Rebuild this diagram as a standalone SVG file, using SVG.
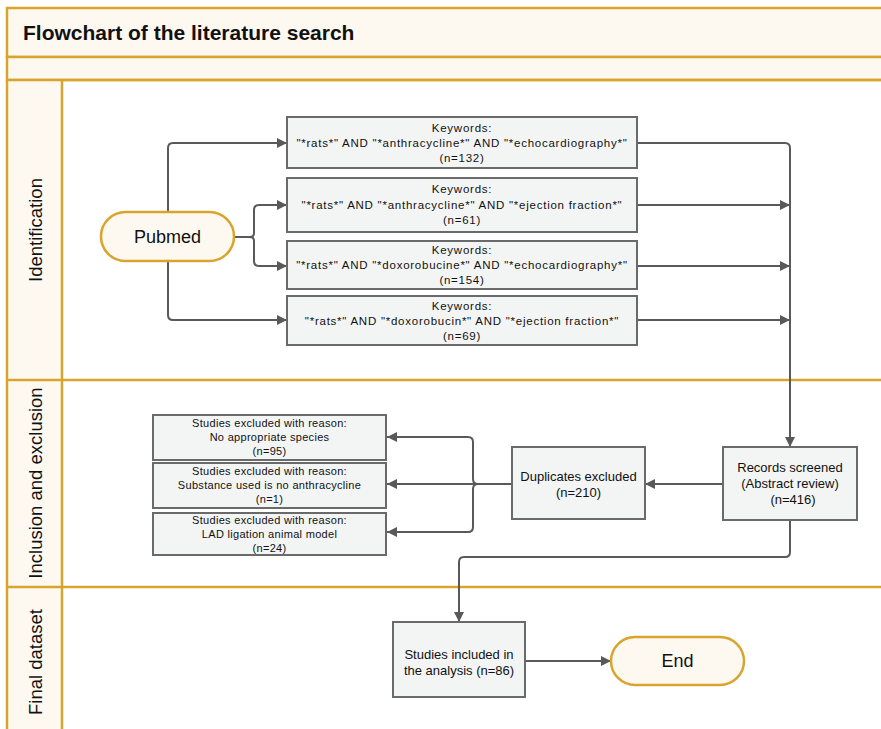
<svg xmlns="http://www.w3.org/2000/svg" width="881" height="729" viewBox="0 0 881 729">
<defs>
<marker id="ah" viewBox="0 0 10 10" refX="10" refY="5" markerWidth="10" markerHeight="10" markerUnits="userSpaceOnUse" orient="auto">
<path d="M0,0 L10,5 L0,10 z" fill="#595959"/>
</marker>
<style>
.lane{fill:none;stroke:#d9a42c;stroke-width:2.5}
.hdr{fill:#fdf9f1;stroke:#d9a42c;stroke-width:2.5}
.box{fill:#f3f5f5;stroke:#6a6a6a;stroke-width:2}
.pill{fill:#fdf9f1;stroke:#d9a42c;stroke-width:2.5}
.c{fill:none;stroke:#595959;stroke-width:2;marker-end:url(#ah)}
.cn{fill:none;stroke:#595959;stroke-width:2}
.t{font-family:"Liberation Sans",Arial,sans-serif;fill:#111;text-anchor:middle}
.k{font-size:11.5px;letter-spacing:0.75px}
.s{font-size:11px;letter-spacing:0.3px}
.m{font-size:13px}
.big{font-family:"Liberation Sans",Arial,sans-serif;font-size:18px;fill:#111;text-anchor:middle}
.lbl{font-family:"Liberation Sans",Arial,sans-serif;font-size:18.5px;fill:#111;text-anchor:middle}
</style>
</defs>
<g id="pool">
<rect class="hdr" x="7" y="8" width="880" height="49"/>
<rect class="hdr" x="7" y="57" width="880" height="23"/>
<rect x="7" y="80" width="55" height="660" fill="#fdf9f1"/>
<path class="lane" d="M7,80 V740 M62,80 V740 M7,80 H881 M7,380 H881 M7,587 H881"/>
<text x="23" y="40" font-family="Liberation Sans,Arial,sans-serif" font-size="21" font-weight="bold" fill="#111">Flowchart of the literature search</text>
<text class="lbl" transform="translate(42,230) rotate(-90)">Identification</text>
<text class="lbl" transform="translate(42,483) rotate(-90)">Inclusion and exclusion</text>
<text class="lbl" transform="translate(42,662) rotate(-90)">Final dataset</text>
</g>
<g id="connectors">
<path class="c" d="M168,212 V148 Q168,143 173,143 H287"/>
<path class="c" d="M168,261 V315 Q168,320 173,320 H287"/>
<path class="cn" d="M234,237 H250"/>
<path class="c" d="M254,233 V210 Q254,205 259,205 H287"/>
<path class="c" d="M254,241 V261 Q254,266 259,266 H287"/>
<path class="cn" d="M250,237 Q254,237 254,233 M250,237 Q254,237 254,241"/>
<path class="c" d="M637,143 H785 Q790,143 790,148 V447"/>
<path class="c" d="M637,205 H790"/>
<path class="c" d="M637,266 H790"/>
<path class="c" d="M637,320 H790"/>
<path class="c" d="M723,484 H645"/>
<path class="cn" d="M512,484 H478"/>
<path class="c" d="M478,484 Q473,484 473,479 V442 Q473,437 468,437 H387"/>
<path class="c" d="M478,484 H387"/>
<path class="c" d="M478,484 Q473,484 473,489 V527 Q473,532 468,532 H387"/>
<path class="c" d="M790,520 V552 Q790,557 785,557 H464 Q459,557 459,562 V622"/>
<path class="c" d="M525,661 H611"/>
</g>
<g id="pubmed">
<rect class="pill" x="101" y="212" width="133" height="49" rx="24.5"/>
<text class="big" x="167.5" y="243">Pubmed</text>
</g>
<g id="kw1">
<rect class="box" x="287" y="117" width="350" height="51"/>
<text class="t k" x="462" y="132">Keywords:</text>
<text class="t k" x="462" y="147">"*rats*" AND "*anthracycline*" AND "*echocardiography*"</text>
<text class="t k" x="462" y="162">(n=132)</text>
</g>
<g id="kw2">
<rect class="box" x="287" y="178" width="350" height="54"/>
<text class="t k" x="462" y="193">Keywords:</text>
<text class="t k" x="462" y="209">"*rats*" AND "*anthracycline*" AND "*ejection fraction*"</text>
<text class="t k" x="462" y="224">(n=61)</text>
</g>
<g id="kw3">
<rect class="box" x="287" y="241" width="350" height="48"/>
<text class="t k" x="462" y="254">Keywords:</text>
<text class="t k" x="462" y="269">"*rats*" AND "*doxorobucine*" AND "*echocardiography*"</text>
<text class="t k" x="462" y="284">(n=154)</text>
</g>
<g id="kw4">
<rect class="box" x="287" y="296" width="350" height="49"/>
<text class="t k" x="462" y="310">Keywords:</text>
<text class="t k" x="462" y="325">"*rats*" AND "*doxorobucin*" AND "*ejection fraction*"</text>
<text class="t k" x="462" y="340">(n=69)</text>
</g>
<g id="records">
<rect class="box" x="723" y="447" width="134" height="73"/>
<text class="t m" x="790" y="472">Records screened</text>
<text class="t m" x="790" y="488">(Abstract review)</text>
<text class="t m" x="793" y="504">(n=416)</text>
</g>
<g id="duplicates">
<rect class="box" x="512" y="447" width="133" height="72"/>
<text class="t m" x="578.5" y="481">Duplicates excluded</text>
<text class="t m" x="578.5" y="497">(n=210)</text>
</g>
<g id="excl1">
<rect class="box" x="153" y="415" width="233" height="45"/>
<text class="t s" x="269.5" y="427">Studies excluded with reason:</text>
<text class="t s" x="269.5" y="441">No appropriate species</text>
<text class="t s" x="269.5" y="455">(n=95)</text>
</g>
<g id="excl2">
<rect class="box" x="153" y="463" width="233" height="45"/>
<text class="t s" x="269.5" y="475">Studies excluded with reason:</text>
<text class="t s" x="269.5" y="489">Substance used is no anthracycline</text>
<text class="t s" x="269.5" y="503">(n=1)</text>
</g>
<g id="excl3">
<rect class="box" x="153" y="513" width="233" height="42"/>
<text class="t s" x="269.5" y="524">Studies excluded with reason:</text>
<text class="t s" x="269.5" y="538">LAD ligation animal model</text>
<text class="t s" x="269.5" y="552">(n=24)</text>
</g>
<g id="included">
<rect class="box" x="393" y="622" width="132" height="75"/>
<text class="t m" x="459" y="659">Studies included in</text>
<text class="t m" x="459" y="675">the analysis (n=86)</text>
</g>
<g id="end">
<rect class="pill" x="611" y="637" width="133" height="48" rx="24"/>
<text class="big" x="677.5" y="667">End</text>
</g>
</svg>
